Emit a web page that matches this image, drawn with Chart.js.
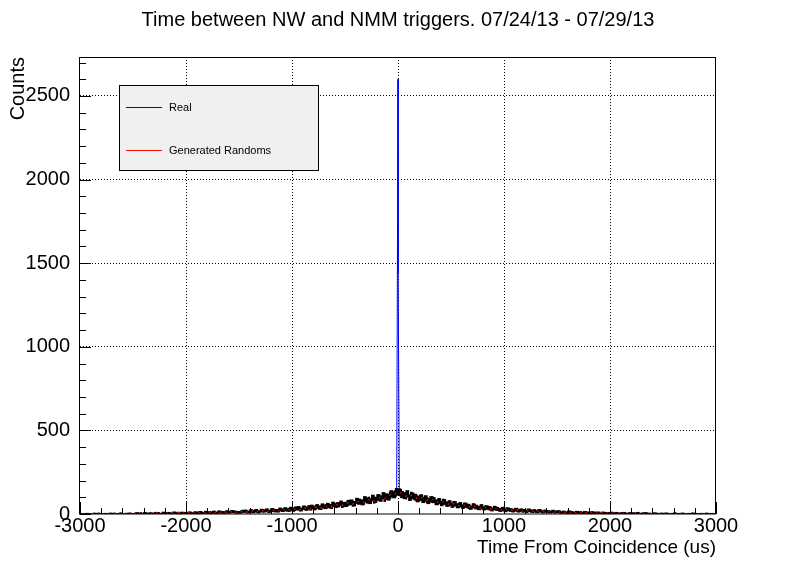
<!DOCTYPE html>
<html><head><meta charset="utf-8">
<script src="https://cdn.jsdelivr.net/npm/chart.js@4/dist/chart.umd.min.js"></script>
<style>html,body{margin:0;padding:0;background:#fff}#wrap{width:796px;height:572px;position:relative}</style>
</head><body><div id="wrap"><canvas id="c"></canvas></div>
<script>
// ---- data ----
const chartTitle = 'Time between NW and NMM triggers. 07/24/13 - 07/29/13';
const xTitle = 'Time From Coincidence (us)';
const yTitle = 'Counts';
const xTicks = [-3000, -2000, -1000, 0, 1000, 2000, 3000];
const yTicks = [0, 500, 1000, 1500, 2000, 2500];
const xRange = [-3000, 3000];
const yRange = [0, 2733];
const legendLabels = ['Real', 'Generated Randoms'];

// Real: counts in 25 us bins from -3000 to 3000 (240 bins)
const realBinWidth = 25;
const realCounts = [
  1,0,2,1,0,3,1,2,0,2,1,3,2,0,2,4,1,2,3,1,
  2,5,3,1,6,3,4,2,6,5,2,7,4,6,3,8,5,3,7,6,
  5,8,4,9,7,10,6,11,9,8,12,7,13,10,9,14,11,15,12,10,
  10,16,17,12,19,14,20,13,21,18,23,16,25,20,19,27,22,29,24,31,
  24,33,35,27,38,31,40,42,34,45,38,49,43,52,46,58,50,55,64,57,
  57,68,70,62,79,74,69,88,80,77,96,85,99,92,110,104,100,121,115,133,
  131,116,110,121,98,108,101,89,97,84,93,77,88,83,69,78,63,72,59,66,
  52,61,49,56,44,53,47,38,50,41,36,45,33,39,35,27,36,30,24,31,
  21,28,24,19,26,18,23,20,15,22,17,19,14,20,13,17,15,11,16,12,
  14,9,12,8,13,10,7,11,9,6,10,8,5,9,7,8,4,7,6,5,
  7,4,6,3,5,6,2,5,4,3,6,2,4,5,3,2,4,3,1,3,
  2,3,1,2,4,1,2,3,0,2,1,3,2,1,2,0,3,1,2,1
];
// Real: the narrow coincidence peak (1 us bins)
const spikeTimes = [0, 1.5];
const spikeCounts = [2600, 1440];

// Generated randoms: counts in 50 us bins from -3000 to 3000 (120 bins)
const randBinWidth = 50;
const randCounts = [
  1,2,0,3,1,2,3,1,2,3,
  3,5,2,4,6,3,5,4,7,5,
  7,5,9,6,10,8,11,9,13,11,
  14,12,17,15,19,17,22,20,26,24,
  30,27,35,32,40,37,45,43,55,51,
  65,60,74,70,85,80,97,92,113,121,
  127,108,112,94,98,82,86,71,74,60,
  62,50,53,42,45,36,38,31,32,25,
  28,22,24,18,21,16,18,13,15,12,
  13,10,11,8,10,7,9,6,7,5,
  6,4,5,3,5,3,4,2,3,2,
  3,1,2,2,1,3,1,2,0,1
];

// visible spread of the black bin-to-bin scatter, in units of sqrt(N)
const spreadSigma = 1.8;

// ---- build datasets from the arrays ----
const realPts = realCounts.map((v, i) => ({x: xRange[0] + (i + 0.5) * realBinWidth, y: v}));
spikeTimes.forEach((t, i) => realPts.push({x: t, y: spikeCounts[i]}));
realPts.sort((a, b) => a.x - b.x);
const randPts = randCounts.map((v, i) => ({x: xRange[0] + (i + 0.5) * randBinWidth, y: v}));
const errOf = p => {
  const e = spreadSigma * Math.sqrt(p.y);
  return {x: p.x, y: [Math.max(0, p.y - e), p.y + e]};
};
const realErr = realCounts.map((v, i) => errOf({x: xRange[0] + (i + 0.5) * realBinWidth, y: v}));
const randErr = randPts.map(errOf);

const FONT = '"Liberation Sans", Arial, Helvetica, sans-serif';

const rootPlugin = {
  id: 'rootStyle',
  afterDatasetsDraw(chart) {
    const {ctx, chartArea: a, scales: {x, y}} = chart;
    ctx.save();
    ctx.strokeStyle = '#000';
    ctx.lineWidth = 1;
    ctx.beginPath();
    for (let v = xRange[0]; v <= xRange[1]; v += 200) {
      const px = Math.round(x.getPixelForValue(v)) + 0.5;
      const len = (v % 1000 === 0) ? 12 : 6;
      ctx.moveTo(px, a.bottom); ctx.lineTo(px, a.bottom - len);
    }
    for (let v = 0; v <= yRange[1]; v += 100) {
      const py = Math.round(y.getPixelForValue(v)) + 0.5;
      const len = (v % 500 === 0) ? 11 : 6;
      ctx.moveTo(a.left, py); ctx.lineTo(a.left + len, py);
    }
    ctx.stroke();
    ctx.strokeRect(a.left - 0.5, a.top + 0.5, a.right - a.left, a.bottom - a.top - 0.5);

    // legend box
    const lx = 119.5, ly = 85.5, lw = 199, lh = 85;
    ctx.fillStyle = '#f0f0f0';
    ctx.fillRect(lx, ly, lw, lh);
    ctx.strokeRect(lx, ly, lw, lh);
    const cols = ['#0000ff', '#ff0000'];
    const rows = [107.5, 150.5];
    ctx.font = '11px ' + FONT;
    ctx.textBaseline = 'middle';
    ctx.textAlign = 'left';
    legendLabels.forEach((lab, i) => {
      ctx.strokeStyle = cols[i];
      ctx.beginPath(); ctx.moveTo(126, rows[i]); ctx.lineTo(162, rows[i]); ctx.stroke();
      ctx.fillStyle = '#000';
      ctx.fillText(lab, 169, rows[i]);
    });
    ctx.restore();
  }
};

new Chart(document.getElementById('c'), {
  type: 'line',
  data: {
    datasets: [
      {type: 'line', label: legendLabels[1], data: randPts, borderColor: '#ff0000', backgroundColor: '#ff0000',
       showLine: false, pointStyle: 'rect', pointRadius: 1, pointBorderWidth: 0, order: 0},
      {type: 'bar', label: 'Random errors', data: randErr, backgroundColor: '#000', borderWidth: 0,
       barThickness: 2, grouped: false, order: 1},
      {type: 'bar', label: 'Real errors', data: realErr, backgroundColor: '#000', borderWidth: 0,
       barThickness: 3, grouped: false, order: 2},
      {type: 'line', label: legendLabels[0], data: realPts, borderColor: '#0000ff', borderWidth: 1,
       pointRadius: 0, tension: 0, order: 3}
    ]
  },
  options: {
    responsive: true, maintainAspectRatio: false, animation: false,
    layout: {padding: {left: 0, right: 0, top: 0, bottom: 0}},
    plugins: {
      legend: {display: false}, tooltip: {enabled: false},
      title: {display: true, text: chartTitle, color: '#000',
              font: {size: 20, family: FONT, weight: 'normal'}, padding: {top: 8, bottom: 25}}
    },
    scales: {
      x: {
        type: 'linear', min: xRange[0], max: xRange[1], offset: false,
        afterFit: s => { s.height = 58; },
        afterBuildTicks: s => { s.ticks = xTicks.map(v => ({value: v})); },
        ticks: {color: '#000', font: {size: 20, family: FONT}, padding: 0, autoSkip: false, maxRotation: 0,
                callback: v => String(v)},
        grid: {drawTicks: false, offset: false, lineWidth: 1,
               color: c => (c.tick && (c.tick.value === xRange[0] || c.tick.value === xRange[1])) ? 'rgba(0,0,0,0)' : '#000'},
        border: {display: false, dash: [1, 2]},
        title: {display: true, text: xTitle, align: 'end', color: '#000',
                font: {size: 19, family: FONT}, padding: {top: 0, bottom: 13}}
      },
      y: {
        type: 'linear', min: yRange[0], max: yRange[1],
        afterFit: s => { s.width = 80; },
        afterBuildTicks: s => { s.ticks = yTicks.map(v => ({value: v})); },
        ticks: {color: '#000', font: {size: 20, family: FONT}, padding: 10, callback: v => String(v)},
        grid: {drawTicks: false, lineWidth: 1,
               color: c => (c.tick && c.tick.value === 0) ? 'rgba(0,0,0,0)' : '#000'},
        border: {display: false, dash: [1, 2]},
        title: {display: true, text: yTitle, align: 'end', color: '#000',
                font: {size: 20, family: FONT}, padding: {top: 6, bottom: 0}}
      },
      yRight: {
        type: 'linear', position: 'right', min: yRange[0], max: yRange[1],
        afterFit: s => { s.width = 80; },
        ticks: {display: false}, grid: {display: false}, border: {display: false}
      }
    }
  },
  plugins: [rootPlugin]
});
</script>
</body></html>
